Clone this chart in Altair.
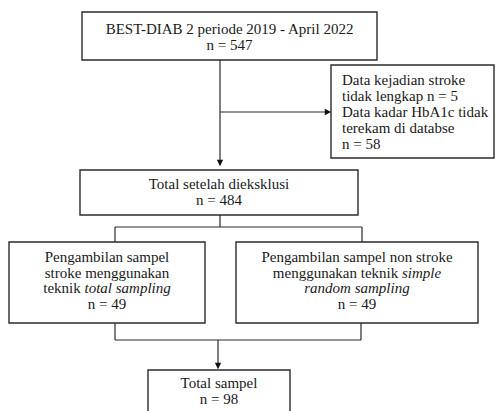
import altair as alt
import pandas as pd

# ---- content ----
box1_lines = ["BEST-DIAB 2 periode 2019 - April 2022", "n = 547"]
excl_lines = ["Data kejadian stroke", "tidak lengkap n = 5", "Data kadar HbA1c tidak",
              "terekam di databse", "n = 58"]
box3_lines = ["Total setelah dieksklusi", "n = 484"]
box4_lines = [("Pengambilan sampel", ""), ("stroke menggunakan", ""),
              ("teknik", "total sampling"), ("n = 49", "")]
box5_lines = [("Pengambilan sampel non stroke", ""), ("menggunakan teknik", "simple"),
              ("", "random sampling"), ("n = 49", "")]
box6_lines = ["Total sampel", "n = 98"]

# ---- layout (reference pixel coordinates) ----
boxes = pd.DataFrame({
    "x": [82, 331, 80, 9, 236, 148],
    "x2": [377, 494, 358, 205, 478, 290],
    "y": [12, 65, 170, 242, 242, 370],
    "y2": [60, 158, 215, 323, 323, 425],
})

segs = pd.DataFrame({
    "x":  [220, 220, 220, 115, 115, 362, 115, 361, 115, 218],
    "x2": [220, 326, 220, 362, 115, 362, 115, 361, 361, 218],
    "y":  [60, 112, 215, 227, 227, 227, 323, 323, 340, 340],
    "y2": [161, 112, 227, 227, 242, 242, 340, 340, 340, 363],
})

arrows_down = pd.DataFrame({"x": [220, 218], "y": [163, 366]})
arrows_right = pd.DataFrame({"x": [328], "y": [112]})

FONT = "Liberation Serif"
FS = 15


def tw(s, italic=False):
    w = {' ': 250, 'a': 500 if italic else 444, 'b': 500, 'c': 444, 'd': 500, 'e': 444,
         'g': 500, 'i': 278, 'k': 444 if italic else 500, 'l': 278, 'm': 722 if italic else 778,
         'n': 500, 'o': 500, 'p': 500, 'r': 389 if italic else 333, 's': 389, 't': 278,
         'u': 500}
    return sum(w.get(c, 500) for c in s) * FS / 1000.0


rows = []


def centred(lines, cx, y0, dy):
    for i, s in enumerate(lines):
        rows.append({"x": cx, "y": y0 + i * dy, "t": s, "a": "center", "st": "normal"})


def mixed(lines, cx, y0, dy):
    sp = tw(" ")
    for i, (n, it) in enumerate(lines):
        y = y0 + i * dy
        if n and it:
            total = tw(n) + sp + tw(it, True)
            left = cx - total / 2
            rows.append({"x": left + tw(n), "y": y, "t": n, "a": "right", "st": "normal"})
            rows.append({"x": left + tw(n) + sp, "y": y, "t": it, "a": "left", "st": "italic"})
        elif n:
            rows.append({"x": cx, "y": y, "t": n, "a": "center", "st": "normal"})
        else:
            rows.append({"x": cx, "y": y, "t": it, "a": "center", "st": "italic"})


centred(box1_lines, 229.5, 29, 16)
for i, s in enumerate(excl_lines):
    rows.append({"x": 342, "y": 80 + i * 16, "t": s, "a": "left", "st": "normal"})
centred(box3_lines, 219, 184, 16)
mixed(box4_lines, 107, 257, 15.5)
mixed(box5_lines, 357, 257, 15.5)
centred(box6_lines, 219, 383, 15.5)
texts = pd.DataFrame(rows)

xs = alt.Scale(domain=[8, 495], nice=False, zero=False)
ys = alt.Scale(domain=[8, 411], nice=False, zero=False, reverse=True)

rect = alt.Chart(boxes).mark_rect(fill="white", stroke="#2b2b2b", strokeWidth=1.4).encode(
    x=alt.X("x:Q", scale=xs, axis=None), x2="x2:Q",
    y=alt.Y("y:Q", scale=ys, axis=None), y2="y2:Q")

lines = alt.Chart(segs).mark_rule(color="#2b2b2b", strokeWidth=1.2).encode(
    x=alt.X("x:Q", scale=xs, axis=None), x2="x2:Q",
    y=alt.Y("y:Q", scale=ys, axis=None), y2="y2:Q")

ad = alt.Chart(arrows_down).mark_point(shape="M-1,-1L1,-1L0,1Z", filled=True, size=40,
                                        color="#111", opacity=1).encode(
    x=alt.X("x:Q", scale=xs, axis=None), y=alt.Y("y:Q", scale=ys, axis=None))
ar = alt.Chart(arrows_right).mark_point(shape="M-1,-1L1,0L-1,1Z", filled=True, size=40,
                                         color="#111", opacity=1).encode(
    x=alt.X("x:Q", scale=xs, axis=None), y=alt.Y("y:Q", scale=ys, axis=None))


def txt(align, style):
    d = texts[(texts.a == align) & (texts.st == style)]
    return alt.Chart(d).mark_text(font=FONT, fontSize=FS, align=align, baseline="middle",
                                  fontStyle=style, color="#1a1a1a").encode(
        x=alt.X("x:Q", scale=xs, axis=None), y=alt.Y("y:Q", scale=ys, axis=None),
        text="t:N")


layers = [rect, lines, ad, ar]
for a in ["center", "left", "right"]:
    for s in ["normal", "italic"]:
        if len(texts[(texts.a == a) & (texts.st == s)]):
            layers.append(txt(a, s))

chart = alt.layer(*layers).properties(
    width=487, height=403, padding=0, autosize="none"
).configure_view(stroke=None)

chart.save("out.html", embed_options={"renderer": "svg", "actions": False})
